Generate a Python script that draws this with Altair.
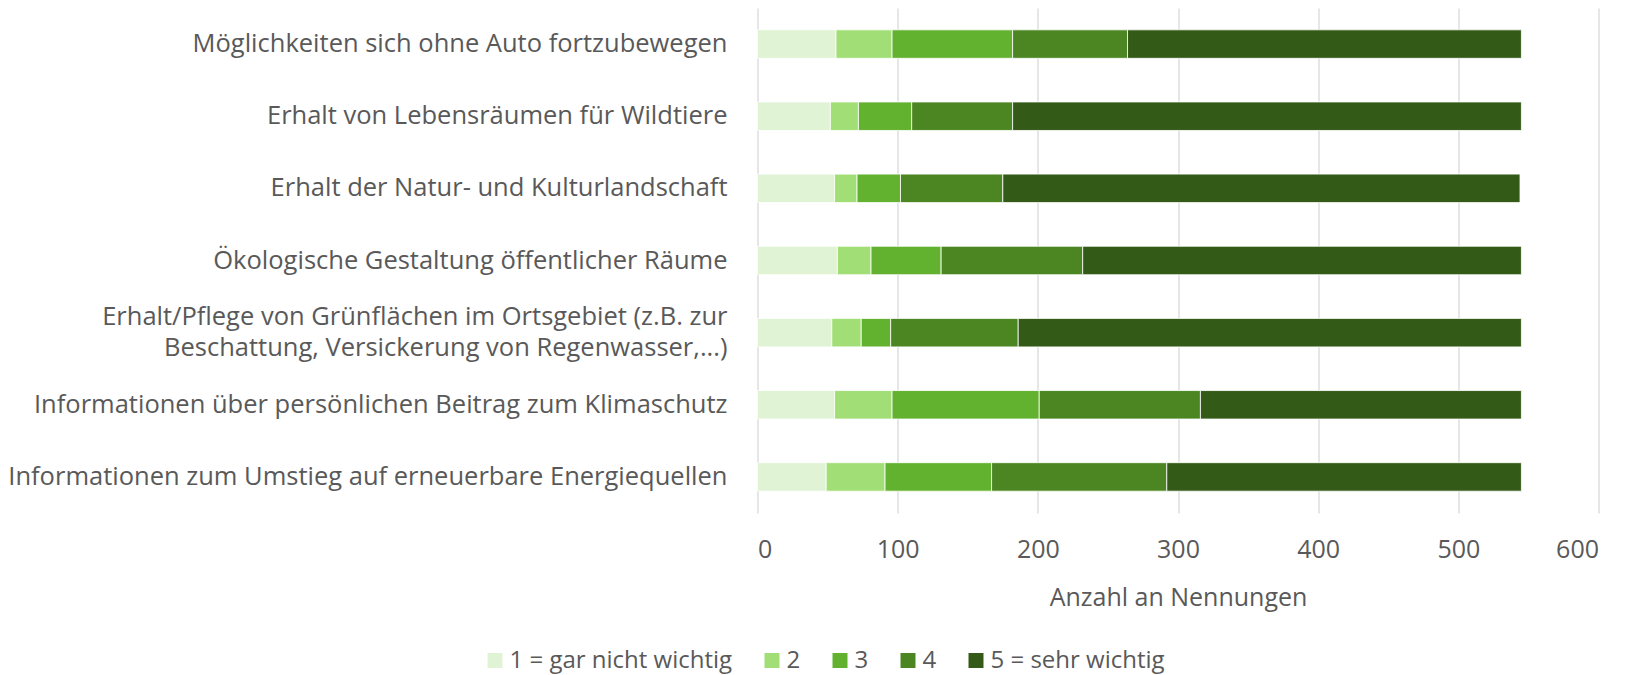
import altair as alt
import pandas as pd

categories = [
    "Möglichkeiten sich ohne Auto fortzubewegen",
    "Erhalt von Lebensräumen für Wildtiere",
    "Erhalt der Natur- und Kulturlandschaft",
    "Ökologische Gestaltung öffentlicher Räume",
    "Erhalt/Pflege von Grünflächen im Ortsgebiet (z.B. zur|Beschattung, Versickerung von Regenwasser,...)",
    "Informationen über persönlichen Beitrag zum Klimaschutz",
    "Informationen zum Umstieg auf erneuerbare Energiequellen",
]
levels = ["1 = gar nicht wichtig", "2", "3", "4", "5 = sehr wichtig"]
v1 = [56, 52, 55, 57, 53, 55, 49]
v2 = [40, 20, 16, 24, 21, 41, 42]
v3 = [86, 38, 31, 50, 21, 105, 76]
v4 = [82, 72, 73, 101, 91, 115, 125]
v5 = [281, 363, 369, 313, 359, 229, 253]
colors = ["#E0F3D5", "#A2DE76", "#63B22F", "#4C8623", "#345A18"]

series = [v1, v2, v3, v4, v5]
rows = []
for li, (lev, vals) in enumerate(zip(levels, series)):
    for cat, v in zip(categories, vals):
        rows.append({"category": cat, "level": lev, "idx": li, "value": v})
df = pd.DataFrame(rows)

FONT = "Open Sans"
TXT = "#595959"

chart = alt.Chart(df).mark_bar(stroke="white", strokeWidth=0.8).encode(
    x=alt.X(
        "value:Q",
        stack="zero",
        scale=alt.Scale(domain=[0, 600], nice=False),
        axis=alt.Axis(
            values=[0, 100, 200, 300, 400, 500, 600],
            title="Anzahl an Nennungen",
            grid=True,
            gridColor="#D9D9D9",
            gridWidth=1.3,
            domain=False,
            ticks=False,
            tickSize=0,
            labelPadding=36,
            labelBaseline="middle",
            labelFont=FONT,
            labelFontSize=25,
            labelColor=TXT,
            titleFont=FONT,
            titleFontSize=25,
            titleFontWeight="normal",
            titleColor=TXT,
            titleBaseline="alphabetic",
            titleY=92.7,
        ),
    ),
    y=alt.Y(
        "category:N",
        sort=categories,
        scale=alt.Scale(paddingInner=0.605, paddingOuter=0.3025),
        axis=alt.Axis(
            title=None,
            domain=False,
            ticks=False,
            tickSize=0,
            labelPadding=30.5,
            labelExpr="split(datum.label, '|')",
            labelLimit=0,
            labelLineHeight=30.5,
            labelOffset={"condition": {"test": "indexof(datum.value, '|') >= 0", "value": -15.25}, "value": 0},
            labelFont=FONT,
            labelFontSize=25.5,
            labelColor=TXT,
        ),
    ),
    color=alt.Color(
        "level:N",
        sort=levels,
        scale=alt.Scale(domain=levels, range=colors),
        legend=alt.Legend(
            title=None,
            orient="none",
            legendX=-274.5,
            legendY=640.5,
            direction="horizontal",
            columns=5,
            symbolType="square",
            symbolSize=225,
            symbolStrokeWidth=0,
            labelOffset=2.5,
            labelLimit=0,
            columnPadding=27,
            padding=0,
            labelFont=FONT,
            labelFontSize=24,
            labelColor=TXT,
        ),
    ),
    order=alt.Order("idx:Q"),
).properties(
    width=841,
    height=505,
    background="white",
    autosize=alt.AutoSizeParams(type="none"),
    padding={"left": 749.5, "top": 0, "right": 25, "bottom": 162},
).configure_view(stroke=None, strokeWidth=0)

chart.save("out.html", embed_options={"renderer": "svg", "actions": False})
